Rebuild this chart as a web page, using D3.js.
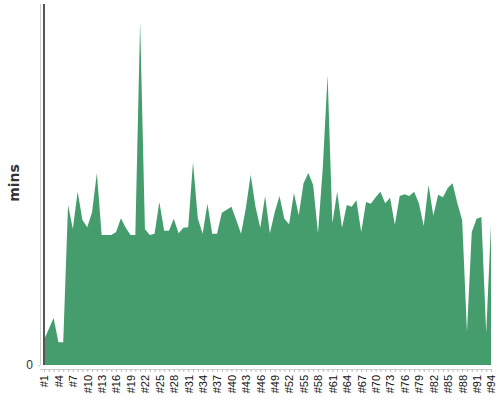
<!DOCTYPE html>
<html>
<head>
<meta charset="utf-8">
<script src="https://cdn.jsdelivr.net/npm/d3@7"></script>
<style>
  body { margin: 0; background: #fff; }
  svg { font-family: "DejaVu Sans", sans-serif; }
</style>
</head>
<body>
<div id="chart"></div>
<script>
// data
var labels = [];
for (var i = 1; i <= 94; i++) labels.push("#" + i);

var mins = [
    4.2, 6.0, 7.8, 3.8, 3.8, 26.6, 22.6, 28.8, 24.1, 22.9,
    25.4, 31.9, 21.6, 21.6, 21.6, 22.1, 24.4, 22.8, 21.6, 21.6,
    57.0, 22.6, 21.6, 21.8, 27.1, 22.3, 22.3, 24.3, 21.9, 22.8,
    22.9, 33.7, 24.4, 21.8, 26.8, 21.8, 21.8, 25.3, 25.8, 26.3,
    24.1, 21.8, 26.1, 31.6, 26.3, 22.8, 28.1, 21.9, 25.4, 28.1,
    24.3, 23.4, 28.6, 24.9, 30.2, 31.9, 29.9, 21.9, 32.7, 48.2,
    23.6, 28.8, 22.8, 26.6, 26.3, 27.4, 22.1, 27.1, 26.8, 27.9,
    28.8, 26.9, 27.8, 23.3, 28.1, 28.4, 28.1, 28.8, 26.9, 23.1,
    29.9, 24.8, 28.3, 27.9, 29.4, 30.2, 26.9, 24.1, 5.5, 22.1,
    24.3, 24.6, 5.3, 23.3
];
var yTicks = [0];

var svgWidth = 500;
var svgHeight = 400;

var svg = d3.select("#chart")
    .append("svg")
    .attr("width", svgWidth)
    .attr("height", svgHeight);

var xScale = d3.scalePoint()
    .domain(labels)
    .range([44, 491]);

var yScale = d3.scaleLinear()
    .domain([0, 60])
    .range([365, 4]);

// area
var area = d3.area()
    .x(function(d, i) { return xScale(labels[i]); })
    .y0(yScale(0))
    .y1(function(d) { return yScale(d); });

svg.append("path")
    .datum(mins)
    .attr("d", area)
    .attr("fill", "#459d6e");

// y axis
var leftAxis = d3.axisLeft(yScale)
    .tickValues(yTicks)
    .tickSize(2)
    .tickPadding(5);

var gy = svg.append("g")
    .attr("transform", "translate(40,0)")
    .call(leftAxis);
gy.select(".domain").attr("stroke", "#ccc").attr("d", "M0.5,4V365");
gy.selectAll(".tick line").attr("stroke", "#ccc");
gy.selectAll(".tick text").attr("fill", "#333").style("font-size", "12px");

// x axis
var bottomAxis = d3.axisBottom(xScale)
    .tickSize(3)
    .tickPadding(4)
    .tickFormat(function(d, i) { return i % 3 === 0 ? d : ""; });

var gx = svg.append("g")
    .attr("transform", "translate(0,369)")
    .call(bottomAxis);
gx.select(".domain").attr("stroke", "#ccc").attr("d", "M40,0.5H491");
gx.selectAll(".tick line").attr("stroke", "#bbb");
gx.selectAll(".tick text")
    .attr("fill", "#111")
    .style("font-size", "11px")
    .attr("text-anchor", "end")
    .attr("transform", "rotate(-90)")
    .attr("x", -6)
    .attr("y", 0)
    .attr("dy", "0.35em");

// guide line on first point
svg.append("line")
    .attr("x1", xScale(labels[0]))
    .attr("x2", xScale(labels[0]))
    .attr("y1", 4)
    .attr("y2", yScale(0))
    .attr("stroke", "#555")
    .attr("stroke-width", 2);

// y label
svg.append("text")
    .attr("transform", "translate(19,183) rotate(-90)")
    .attr("text-anchor", "middle")
    .attr("fill", "#333")
    .style("font-size", "14px")
    .style("font-weight", "bold")
    .text("mins");
</script>
</body>
</html>
